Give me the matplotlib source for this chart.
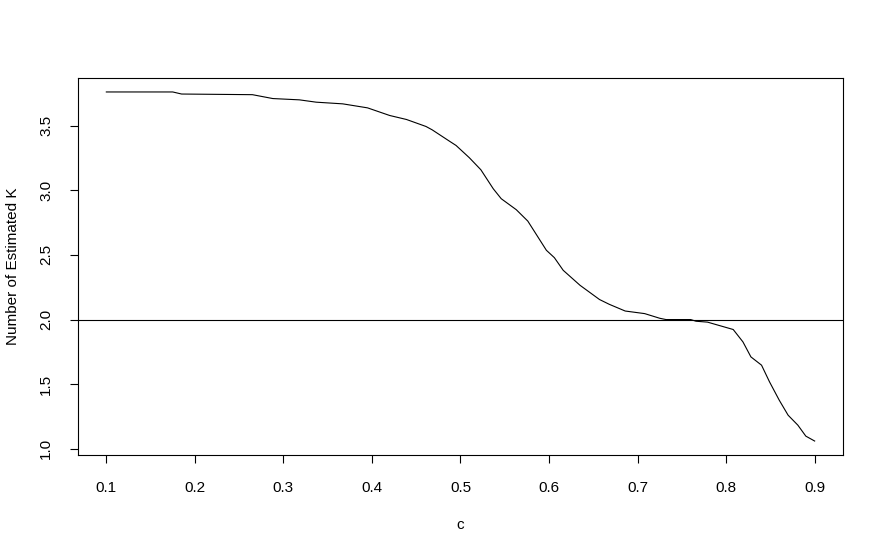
import matplotlib.pyplot as plt

plt.rcParams['font.family'] = ['Liberation Sans', 'DejaVu Sans']

# values
c_values = [0.100, 0.175, 0.185, 0.265, 0.288, 0.318, 0.337, 0.367, 0.395, 0.420,
            0.439, 0.461, 0.468, 0.488, 0.495, 0.510, 0.523, 0.537, 0.546, 0.563,
            0.576, 0.597, 0.606, 0.616, 0.635, 0.657, 0.668, 0.686, 0.708, 0.725,
            0.732, 0.760, 0.766, 0.779, 0.808, 0.819, 0.828, 0.840, 0.849, 0.860,
            0.870, 0.881, 0.890, 0.900]
k_values = [3.761, 3.761, 3.745, 3.740, 3.710, 3.700, 3.682, 3.669, 3.638, 3.579,
            3.548, 3.494, 3.468, 3.378, 3.347, 3.252, 3.159, 3.012, 2.935, 2.850,
            2.762, 2.536, 2.479, 2.381, 2.265, 2.155, 2.118, 2.066, 2.046, 2.010,
            2.000, 2.000, 1.987, 1.980, 1.923, 1.827, 1.711, 1.647, 1.518, 1.376,
            1.260, 1.183, 1.098, 1.060]
x_ticks = [0.1, 0.2, 0.3, 0.4, 0.5, 0.6, 0.7, 0.8, 0.9]
y_ticks = [1.0, 1.5, 2.0, 2.5, 3.0, 3.5]
ref_line = 2.0

fig = plt.figure(figsize=(8.84, 5.53), dpi=100)
ax = fig.add_axes([78 / 884, 1 - 455 / 553, (843 - 78) / 884, (455 - 78) / 553])

ax.plot(c_values, k_values, color="black", linewidth=0.8)
ax.axhline(ref_line, color="black", linewidth=0.8)

# R style 4% padding
xr = max(c_values) - min(c_values)
yr = max(k_values) - min(k_values)
ax.set_xlim(min(c_values) - 0.04 * xr, max(c_values) + 0.04 * xr)
ax.set_ylim(min(k_values) - 0.04 * yr, max(k_values) + 0.04 * yr)

ax.set_xticks(x_ticks)
ax.set_xticklabels(["%.1f" % v for v in x_ticks])
ax.set_yticks(y_ticks)
ax.set_yticklabels(["%.1f" % v for v in y_ticks], rotation=90, va="center")
ax.tick_params(axis="x", length=6, width=0.8, pad=13, labelsize=11)
ax.tick_params(axis="y", length=6, width=0.8, pad=12, labelsize=11)
for s in ax.spines.values():
    s.set_linewidth(0.8)

ax.set_xlabel("c", fontsize=11, labelpad=16)
ax.set_ylabel("Number of Estimated K", fontsize=11, labelpad=14)

fig.savefig("out.png", dpi=100)
